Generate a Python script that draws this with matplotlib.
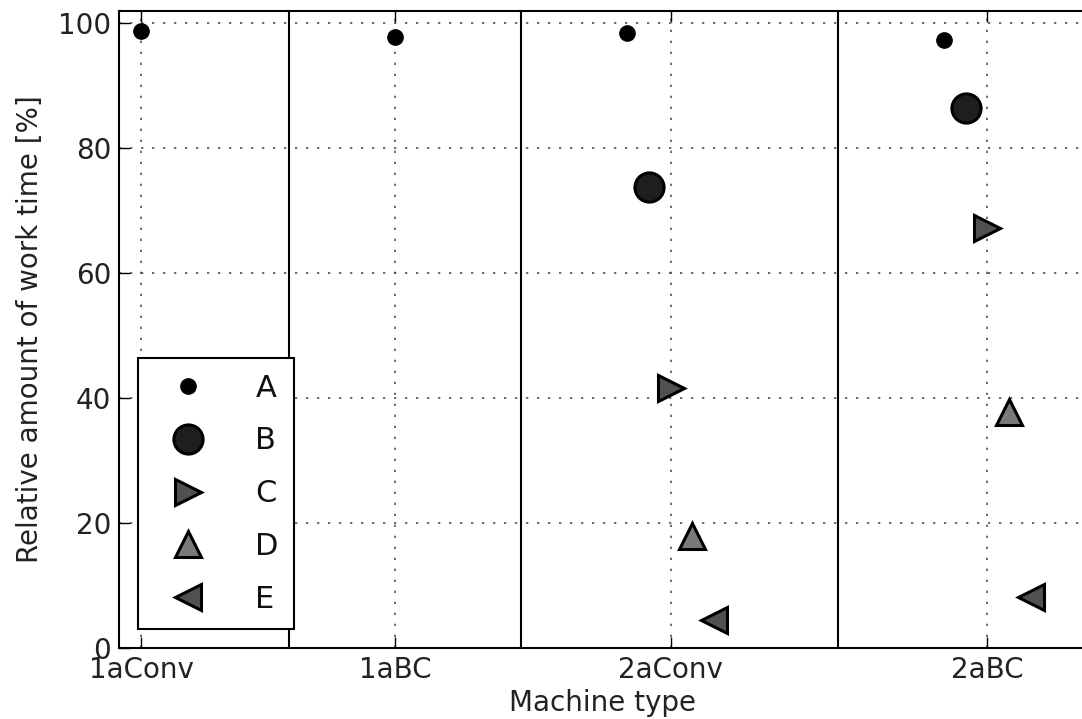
import matplotlib
matplotlib.use('Agg')
import matplotlib.pyplot as plt

# machine types and where each group sits on the x axis
machines = ['1aConv', '1aBC', '2aConv', '2aBC']
group_pos = [1.0, 12.7, 25.4, 40.0]
separators = [7.8, 18.5, 33.1]

# relative amount of work time [%] per activity (None = not present)
A = [98.8, 97.9, 98.5, 97.3]
B = [None, None, 73.8, 86.4]
C = [None, None, 41.6, 67.2]
D = [None, None, 17.8, 37.7]
E = [None, None, 4.4, 8.1]

labels = ['A', 'B', 'C', 'D', 'E']
series = [A, B, C, D, E]
markers = ['o', 'o', '>', '^', '<']
sizes = [11, 21, 19, 19, 19]
colors = ['black', '#1e1e1e', '#505050', '#7a7a7a', '#505050']

fig = plt.figure(figsize=(10.82, 7.19), dpi=100)
ax = fig.add_axes([0.1104, 0.0994, 0.8925, 0.8853])

for k, (lab, vals) in enumerate(zip(labels, series)):
    xs, ys = [], []
    for g, v in enumerate(vals):
        if v is None:
            continue
        n_in_group = sum(1 for s in series if s[g] is not None)
        offset = (k - (n_in_group - 1) / 2) if n_in_group > 1 else 0
        xs.append(group_pos[g] + offset)
        ys.append(v)
    ax.plot(xs, ys, linestyle='none', marker=markers[k], markersize=sizes[k],
            markerfacecolor=colors[k], markeredgecolor='black',
            markeredgewidth=2.2 if k > 0 else 1, label=lab, zorder=3)

for s in separators:
    ax.axvline(s, color='black', linewidth=1.5, zorder=2)

ax.set_xlim(0, 44.5)
ax.set_ylim(0, 102)
ax.set_xticks(group_pos)
ax.set_xticklabels(machines)
ax.set_yticks([0, 20, 40, 60, 80, 100])
ax.grid(True, linestyle=(0, (1.5, 5.7)), color='#444444', linewidth=1.1)
ax.tick_params(direction='in', length=8, width=1, top=True, right=False,
               labelsize=20, pad=6, labelcolor='#222222')
for sp in ax.spines.values():
    sp.set_linewidth(1.5)

ax.set_xlabel('Machine type', fontsize=20, labelpad=4, color='#222222')
ax.set_ylabel('Relative amount of work time [%]', fontsize=20, labelpad=10,
              color='#222222')

leg = ax.legend(loc='lower left', numpoints=1, fontsize=22, fancybox=False,
                framealpha=1, edgecolor='black', borderaxespad=0.6,
                handlelength=2.3, handletextpad=1.05, labelspacing=0.78,
                borderpad=0.5)
leg.get_frame().set_linewidth(1.5)
for t in leg.get_texts():
    t.set_color('#111111')

fig.savefig('out.png', dpi=100)
